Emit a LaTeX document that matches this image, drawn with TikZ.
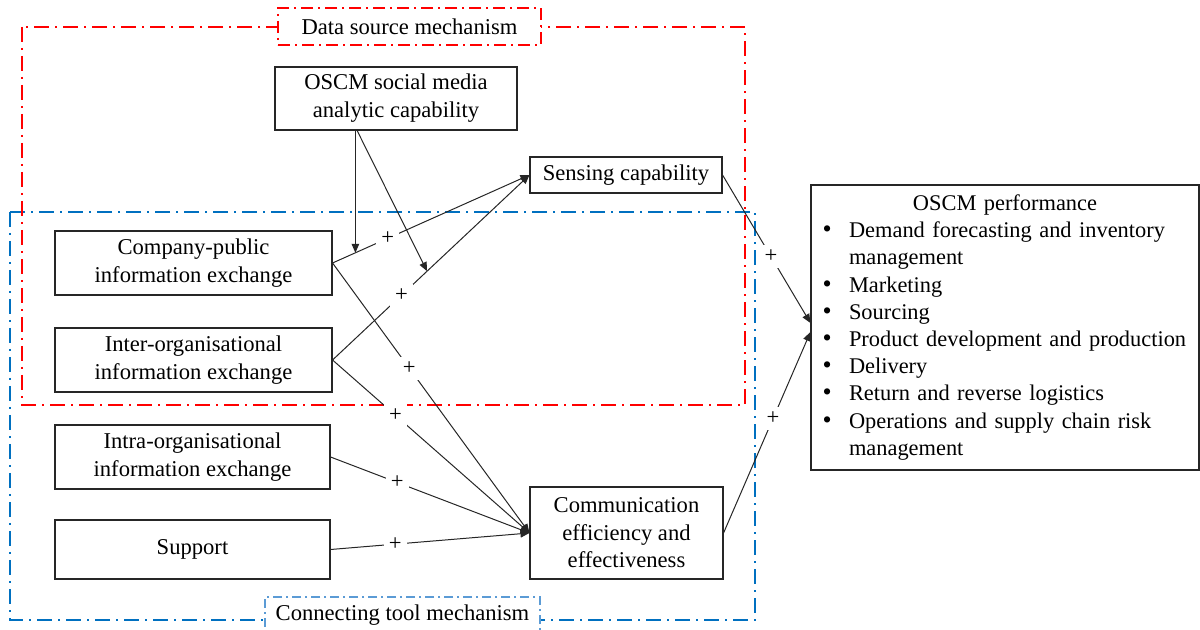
\documentclass[tikz,border=0pt]{standalone}
\usepackage{fontspec}
\setmainfont{Liberation Serif}
\usetikzlibrary{arrows.meta,calc}
\definecolor{frameblue}{HTML}{0070C0}
\definecolor{tagblue}{HTML}{5B9BD5}
\definecolor{ink}{HTML}{262626}
% one bulleted line of the performance list
\newcommand{\perfitem}[1]{\makebox[13.5pt][l]{\hspace*{0.3pt}{\fontsize{13}{13}\selectfont\textbullet}}\mbox{#1}}
\newcommand{\perfcont}[1]{\hspace*{13.5pt}\mbox{#1}}

\begin{document}
\begin{tikzpicture}[x=0.5pt,y=-0.5pt,
  every node/.style={font=\fontsize{11.3}{14}\selectfont},
  box/.style={draw=ink, line width=0.55pt, fill=white, align=center, inner sep=0pt},
  redframe/.style={draw=red, line width=0.8pt, dash pattern=on 7.5pt off 3pt on 1pt off 3pt},
  blueframe/.style={draw=frameblue, line width=0.8pt, dash pattern=on 7.5pt off 3pt on 1pt off 3pt},
  redtag/.style={draw=red, line width=0.7pt, fill=white, dash pattern=on 6pt off 2.5pt on 1pt off 2.5pt,
    minimum width=131.5pt, minimum height=18.5pt, inner sep=0pt},
  bluetag/.style={draw=tagblue, line width=0.6pt, fill=white, dash pattern=on 4.5pt off 2pt on 1pt off 2pt,
    minimum width=137.5pt, minimum height=18.5pt, inner sep=0pt},
  link/.style={draw=ink, line width=0.5pt, -{Triangle[length=4.5pt,width=3.8pt]}},
  plus/.style={fill=white, inner sep=2.5pt},
]
\useasboundingbox (0,0) rectangle (1200,630);
\clip (0,0) rectangle (1200,630);

% mechanism frames
\draw[blueframe] (10,212) rectangle (755,620);
\draw[redframe] (22,27) rectangle (745,405);
\node[redtag] (dsm) at (409.5,26.5) {Data source mechanism};
\node[bluetag] (ctm) at (402.5,615.5) {Connecting tool mechanism};

% constructs
\node[box, minimum width=121pt, minimum height=31.5pt] (osm) at (396,98.5)
  {OSCM social media\\analytic capability};
\node[box, minimum width=96pt, minimum height=18pt] (sens) at (626,175)
  {Sensing capability};
\node[box, minimum width=138.5pt, minimum height=32pt] (cp) at (193.5,263)
  {Company-public\\information exchange};
\node[box, minimum width=138.5pt, minimum height=32pt] (inter) at (193.5,360)
  {Inter-organisational\\information exchange};
\node[box, minimum width=137.5pt, minimum height=32pt] (intra) at (192.5,457)
  {Intra-organisational\\information exchange};
\node[box, minimum width=137.5pt, minimum height=29.5pt] (sup) at (192.5,549.5)
  {Support};
\node[box, minimum width=96.5pt, minimum height=46pt, font=\fontsize{11.3}{13.8}\selectfont] (comm) at (626.5,533)
  {Communication\\efficiency and\\effectiveness};
\node[box, align=left, text width=183pt, inner xsep=5.5pt, inner ysep=0pt,
      minimum height=142.5pt, font=\fontsize{11.2}{13.6}\selectfont] (perf) at (1005,327.5)
  {\makebox[\linewidth]{OSCM performance}\\
   \perfitem{Demand forecasting and inventory}\\
   \perfcont{management}\\
   \perfitem{Marketing}\\
   \perfitem{Sourcing}\\
   \perfitem{Product development and production}\\
   \perfitem{Delivery}\\
   \perfitem{Return and reverse logistics}\\
   \perfitem{Operations and supply chain risk}\\
   \perfcont{management}};

% paths into sensing capability
\draw[link] (cp.east) -- node[plus, pos=0.28] {+} (sens.west);
\draw[link] (inter.east) -- node[plus, pos=0.35] {+} (sens.west);

% paths into communication efficiency and effectiveness
\draw[link] (cp.east) -- node[plus, pos=0.39] {+} (comm.west);
\draw[link] (inter.east) -- node[plus, pos=0.32] {+} (comm.west);
\draw[link] (intra.east) -- node[plus, pos=0.335] {+} (comm.west);
\draw[link] (sup.east) -- node[plus, pos=0.325] {+} (comm.west);

% moderating effect of social media analytic capability
\coordinate (m1) at ($(cp.east)!0.116!(sens.west)$);
\coordinate (m2) at ($(inter.east)!0.48!(sens.west)$);
\coordinate (o2) at ($(osm.south west)!0.34!(osm.south east)$);
\draw[link] (m1 |- osm.south) -- (m1);
\draw[link] (o2) -- (m2);

% paths into performance
\coordinate (p1) at ($(perf.west)+(0,-4.5)$);
\coordinate (p2) at ($(perf.west)+(0,4.5)$);
\draw[link] (sens.east) -- node[plus, pos=0.55] {+} (p1);
\draw[link] (comm.east) -- node[plus, pos=0.57] {+} (p2);
\end{tikzpicture}
\end{document}
